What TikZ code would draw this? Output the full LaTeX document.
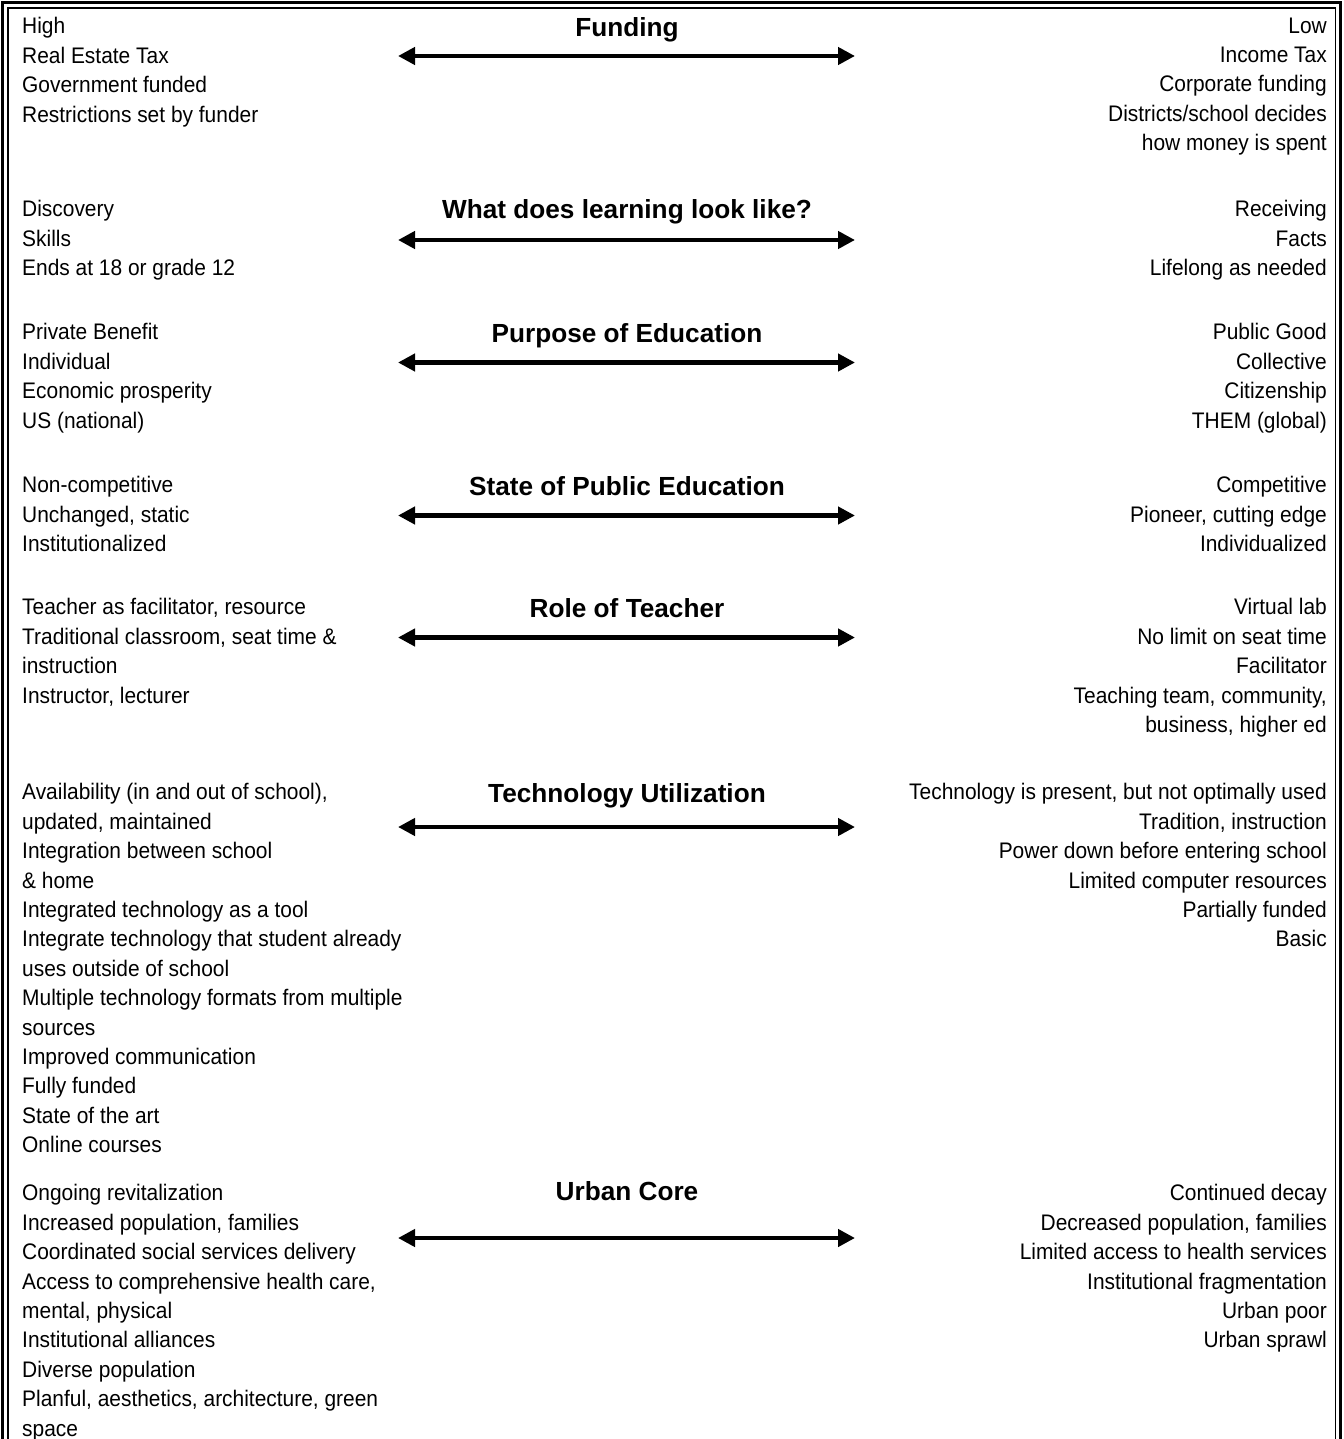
\documentclass[tikz,border=0pt]{standalone}
\usepackage{fontspec}
\setmainfont{Liberation Sans}
\newfontfamily\narrowfont{Liberation Sans}[FakeStretch=0.93]
\usetikzlibrary{arrows.meta}
\begin{document}
\begin{tikzpicture}[x=1pt,y=-1pt,
  block/.style={inner sep=0pt, yshift=14.58pt, execute at begin node=\strut,
    font=\narrowfont\fontsize{22.5}{29.4}\selectfont},
  lefttext/.style={block, anchor=north west, align=left},
  righttext/.style={block, anchor=north east, align=right},
  heading/.style={anchor=base, inner sep=0pt, font=\fontsize{26.2}{30}\selectfont\bfseries},
  scaleline/.style={line width=4.5pt,
    {Triangle[length=17pt,width=17pt]}-{Triangle[length=17pt,width=17pt]}},
]
\useasboundingbox (0,0) rectangle (1343,1439);
% double frame, open at the bottom
\draw[line width=3pt] (2.5,1439) -- (2.5,2.5) -- (1340.5,2.5) -- (1340.5,1439);
\draw[line width=1.2pt] (8,1439) -- (8,8) -- (1335.5,8) -- (1335.5,1439);

% ---- Funding
\node[heading] (fundT) at (627,37) {Funding};
\coordinate (fundA) at (398,56);
\coordinate (fundB) at (855,56);
\draw[scaleline] (fundA) -- (fundB);
\node[lefttext] (fundL) at (22,32) {High\\Real Estate Tax\\Government funded\\Restrictions set by funder};
\node[righttext] (fundR) at (1327,32) {Low\\Income Tax\\Corporate funding\\Districts/school decides\\how money is spent};

% ---- Learning
\node[heading] (learnT) at (627,219) {What does learning look like?};
\coordinate (learnA) at (398,240);
\coordinate (learnB) at (855,240);
\draw[scaleline] (learnA) -- (learnB);
\node[lefttext] (learnL) at (22,215) {Discovery\\Skills\\Ends at 18 or grade 12};
\node[righttext] (learnR) at (1327,215) {Receiving\\Facts\\Lifelong as needed};

% ---- Purpose
\node[heading] (purpT) at (627,342) {Purpose of Education};
\coordinate (purpA) at (398,362.5);
\coordinate (purpB) at (855,362.5);
\draw[scaleline] (purpA) -- (purpB);
\node[lefttext] (purpL) at (22,338) {Private Benefit\\Individual\\Economic prosperity\\US (national)};
\node[righttext] (purpR) at (1327,338) {Public Good\\Collective\\Citizenship\\THEM (global)};

% ---- State of public education
\node[heading] (stateT) at (627,495) {State of Public Education};
\coordinate (stateA) at (398,515.5);
\coordinate (stateB) at (855,515.5);
\draw[scaleline] (stateA) -- (stateB);
\node[lefttext] (stateL) at (22,491) {Non-competitive\\Unchanged, static\\Institutionalized};
\node[righttext] (stateR) at (1327,491) {Competitive\\Pioneer, cutting edge\\Individualized};

% ---- Role of teacher
\node[heading] (roleT) at (627,617) {Role of Teacher};
\coordinate (roleA) at (398,637.5);
\coordinate (roleB) at (855,637.5);
\draw[scaleline] (roleA) -- (roleB);
\node[lefttext] (roleL) at (22,613) {Teacher as facilitator, resource\\Traditional classroom, seat time \&\\instruction\\Instructor, lecturer};
\node[righttext] (roleR) at (1327,613) {Virtual lab\\No limit on seat time\\Facilitator\\Teaching team, community,\\business, higher ed};

% ---- Technology
\node[heading] (techT) at (627,802) {Technology Utilization};
\coordinate (techA) at (398,827);
\coordinate (techB) at (855,827);
\draw[scaleline] (techA) -- (techB);
\node[lefttext] (techL) at (22,798) {Availability (in and out of school),\\updated, maintained\\Integration between school\\\& home\\Integrated technology as a tool\\Integrate technology that student already\\uses outside of school\\Multiple technology formats from multiple\\sources\\Improved communication\\Fully funded\\State of the art\\Online courses};
\node[righttext] (techR) at (1327,798) {Technology is present, but not optimally used\\Tradition, instruction\\Power down before entering school\\Limited computer resources\\Partially funded\\Basic};

% ---- Urban core
\node[heading] (urbT) at (627,1200) {Urban Core};
\coordinate (urbA) at (398,1238);
\coordinate (urbB) at (855,1238);
\draw[scaleline] (urbA) -- (urbB);
\node[lefttext] (urbL) at (22,1199) {Ongoing revitalization\\Increased population, families\\Coordinated social services delivery\\Access to comprehensive health care,\\mental, physical\\Institutional alliances\\Diverse population\\Planful, aesthetics, architecture, green\\space};
\node[righttext] (urbR) at (1327,1199) {Continued decay\\Decreased population, families\\Limited access to health services\\Institutional fragmentation\\Urban poor\\Urban sprawl};
\end{tikzpicture}
\end{document}
